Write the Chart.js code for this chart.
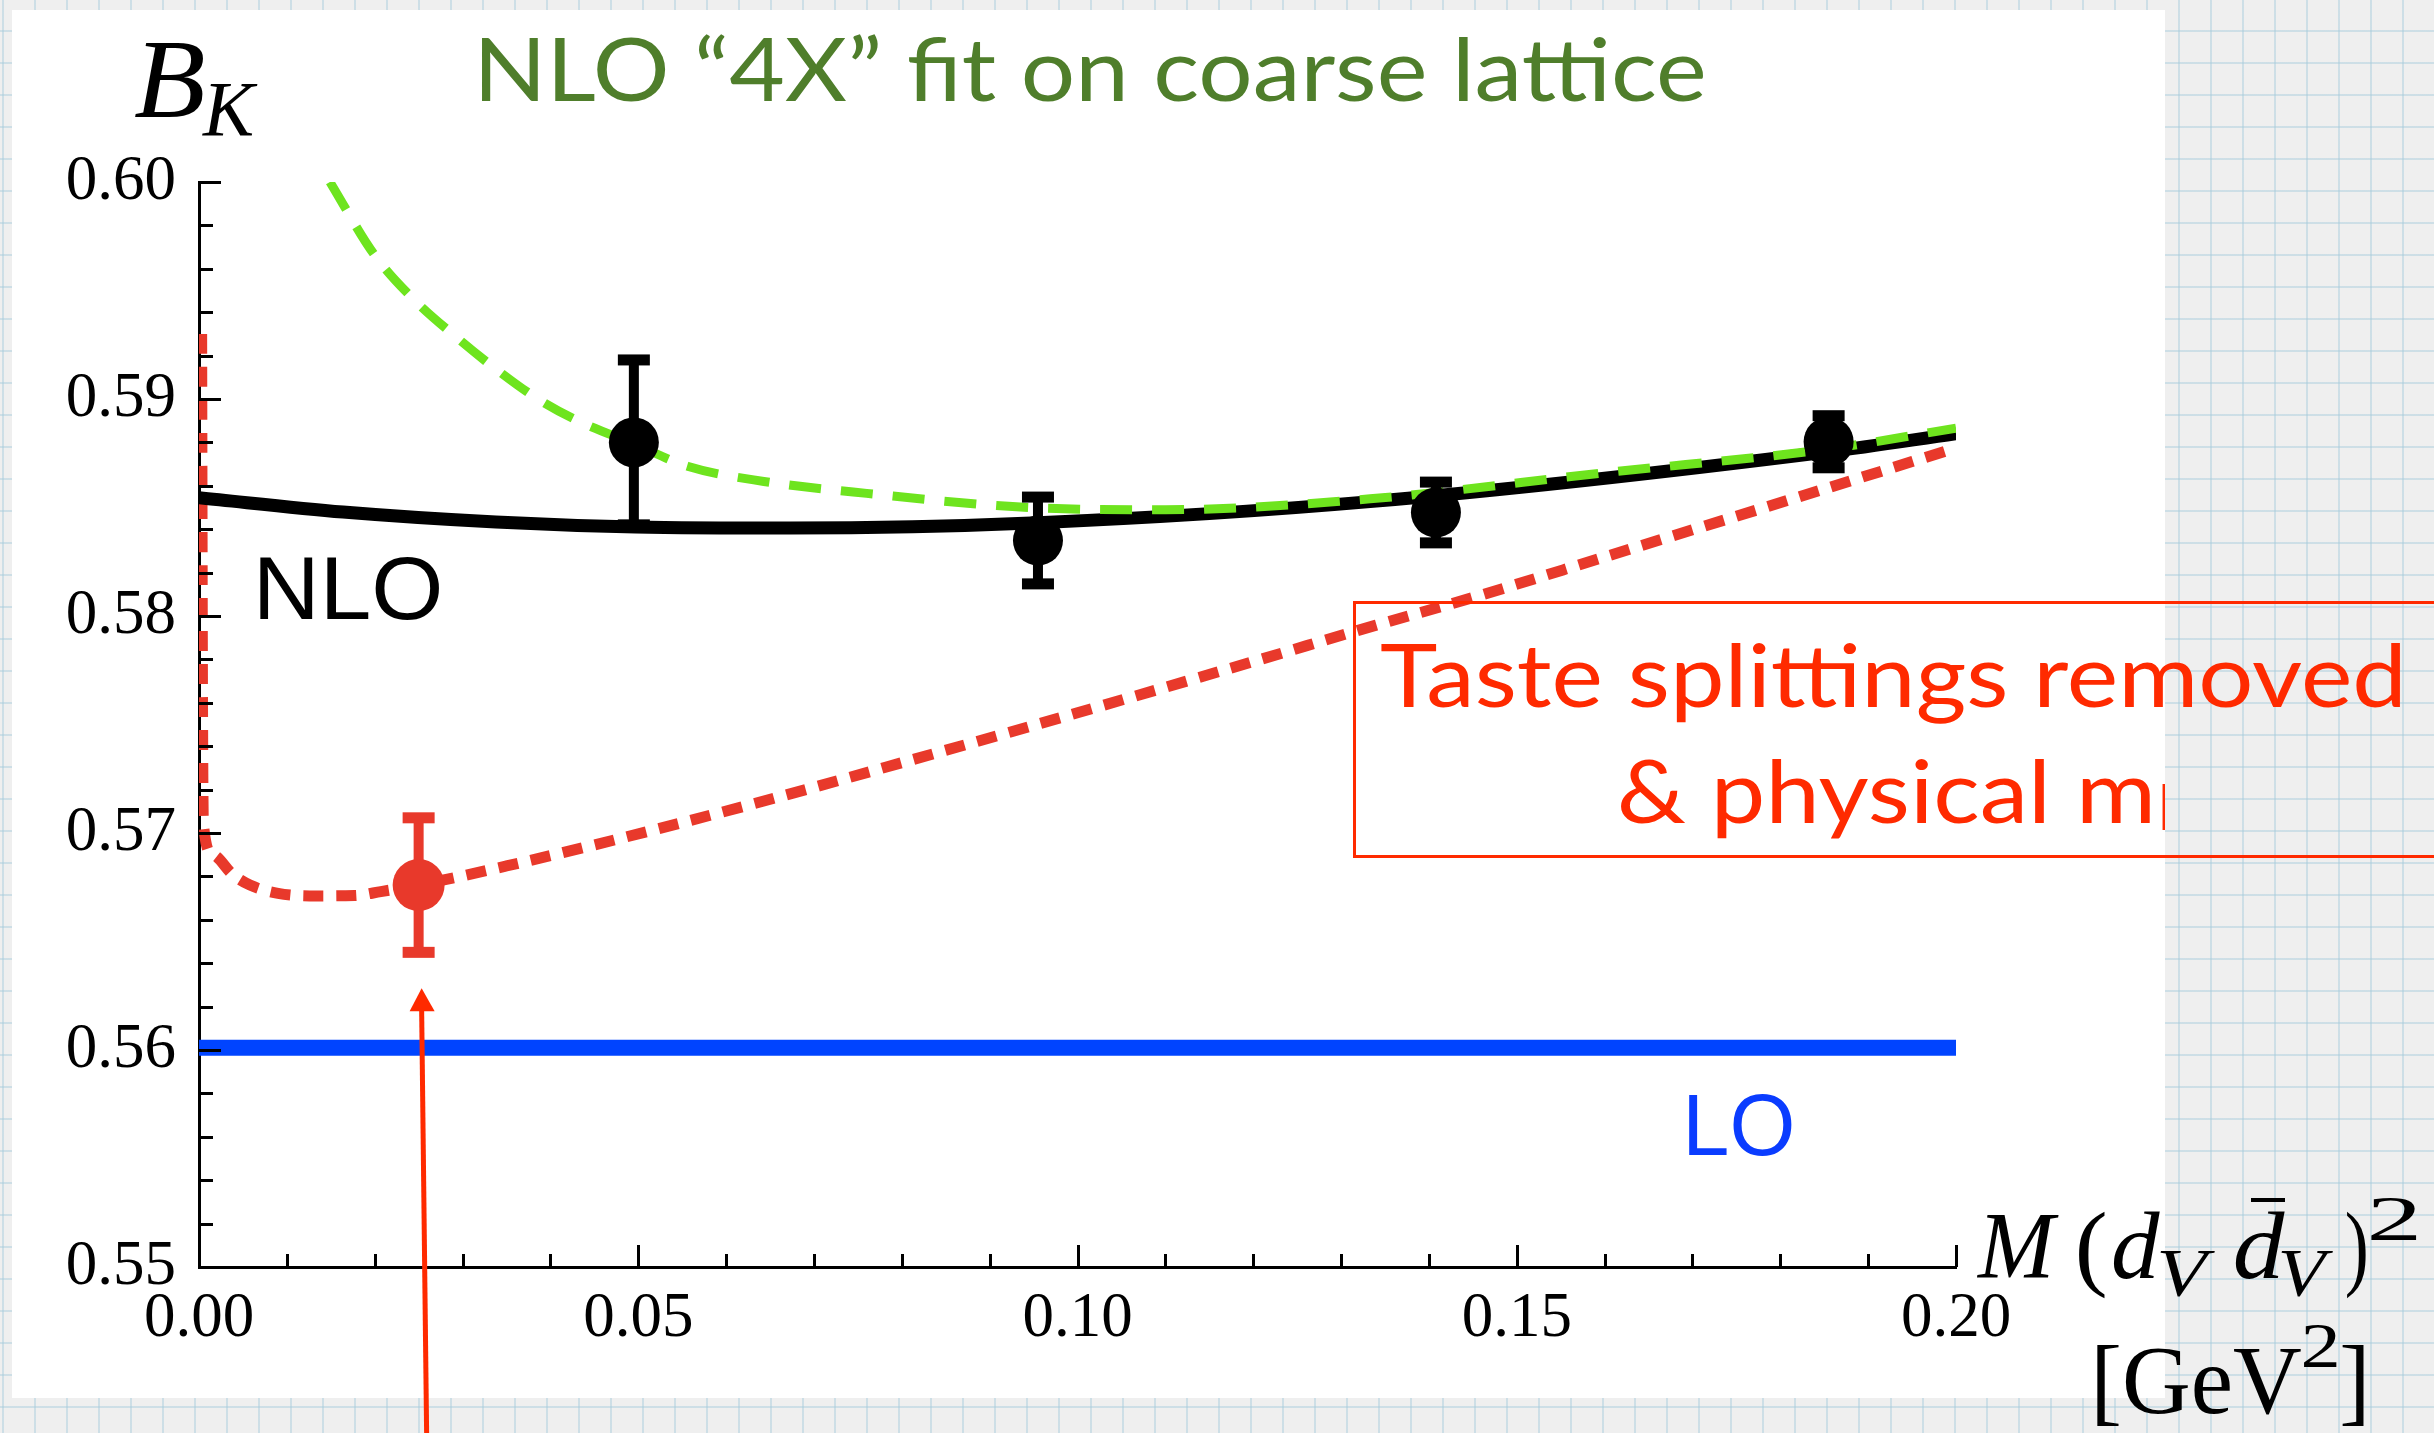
<!DOCTYPE html>
<html>
<head>
<meta charset="utf-8">
<title>B_K - NLO 4X fit on coarse lattice</title>
<script src="https://cdn.jsdelivr.net/npm/chart.js@4.4.1/dist/chart.umd.min.js"></script>
<style>
    html, body { margin: 0; padding: 0; }
    body {
        width: 2434px;
        height: 1433px;
        overflow: hidden;
        position: relative;
        background-color: #efefef;
        background-image:
            linear-gradient(to right, rgba(165, 203, 220, 0.45) 2px, transparent 2px),
            linear-gradient(to bottom, rgba(165, 203, 220, 0.45) 2px, transparent 2px);
        background-size: 32px 32px;
        background-position: 2px 30px;
    }
    #panel { position: absolute; left: 12px; top: 10px; width: 2153px; height: 1388px; background: #fff; }
    #chart { position: absolute; left: 0; top: 0; }
</style>
</head>
<body>
<div id="panel"></div>
<canvas id="chart" width="2434" height="1433"></canvas>
<script>
// Tick labels on the two axes (minor ticks every 0.01 / 0.002 stay unlabelled)
const xTickLabels = ['0.00', '0.05', '0.10', '0.15', '0.20'];
const yTickLabels = ['0.55', '0.56', '0.57', '0.58', '0.59', '0.60'];

// NLO fit, solid black
const nloX = [0, 0.0164, 0.0338, 0.0497, 0.0673, 0.0955, 0.1333, 0.1855, 0.2000];
const nloY = [0.58545, 0.58479, 0.58433, 0.58410, 0.58405, 0.58430, 0.58527, 0.58757, 0.58840];

// NLO "4X" fit, green dashed
const fitX = [0.0149, 0.0199, 0.0243, 0.0295, 0.0338, 0.0382, 0.0426, 0.0497, 0.0556, 0.0643, 0.0760, 0.0955, 0.1100, 0.1333, 0.1600, 0.1855, 0.2000];
const fitY = [0.60000, 0.59668, 0.59465, 0.59278, 0.59138, 0.59010, 0.58910, 0.58790, 0.58690, 0.58620, 0.58565, 0.58498, 0.58490, 0.58540, 0.58660, 0.58770, 0.58866];

// Taste splittings removed & physical m_l, red dotted
const tasteX = [0.0003, 0.0004, 0.0005, 0.0016, 0.0038, 0.0058, 0.0090, 0.0126, 0.0177, 0.0207, 0.0250, 0.0350, 0.0450, 0.0550, 0.0660, 0.0800, 0.1000, 0.1200, 0.1340, 0.1450, 0.1600, 0.1850, 0.2000];
const tasteY = [0.59300, 0.57600, 0.57040, 0.56900, 0.56810, 0.56760, 0.56722, 0.56710, 0.56712, 0.56730, 0.56760, 0.56848, 0.56945, 0.57048, 0.57166, 0.57324, 0.57554, 0.57790, 0.57958, 0.58085, 0.58272, 0.58585, 0.58775];

// LO value, blue
const loX = [0, 0.20];
const loY = [0.5601, 0.5601];

// Coarse lattice data points with errors (black)
const latticeX = [0.0495, 0.0955, 0.1408, 0.1855];
const latticeY = [0.58800, 0.58348, 0.58477, 0.58803];
const latticeErr = [0.0038, 0.0020, 0.0014, 0.0012];

// Extrapolated point (red)
const physX = [0.025];
const physY = [0.5676];
const physErr = [0.0031];

const RED_PLOT = '#e8392b';
const RED_TEXT = '#ff2a00';
const SERIF = '"Liberation Serif", "Times New Roman", serif';

function toPoints(xs, ys, errs) {
    return xs.map((x, i) => ({ x: x, y: ys[i], err: errs ? errs[i] : 0 }));
}

// Returns the label for a tick value, or '' when the tick is a minor one
function labelFor(value, labels) {
    const s = value.toFixed(2);
    return (labels.includes(s) && Math.abs(value - parseFloat(s)) < 1e-9) ? s : '';
}

// Draw text so that its ink spans exactly [x, x + width]
function drawFitted(ctx, text, x, y, width, font, color) {
    ctx.save();
    ctx.font = font;
    ctx.fillStyle = color;
    ctx.textAlign = 'left';
    ctx.textBaseline = 'alphabetic';
    const m = ctx.measureText(text);
    const ink = m.actualBoundingBoxLeft + m.actualBoundingBoxRight;
    const s = width / ink;
    ctx.translate(x + m.actualBoundingBoxLeft * s, y);
    ctx.scale(s, 1);
    ctx.fillText(text, 0, 0);
    ctx.restore();
}

// Inward pointing tick marks on both axes
const inwardTicks = {
    id: 'inwardTicks',
    afterDatasetsDraw(chart) {
        const { ctx, chartArea, scales } = chart;
        ctx.save();
        ctx.strokeStyle = '#000';
        ctx.lineWidth = 3;
        scales.y.ticks.forEach(t => {
            const py = Math.round(scales.y.getPixelForValue(t.value)) + 0.5;
            const len = t.label ? 22 : 14;
            ctx.beginPath();
            ctx.moveTo(chartArea.left, py);
            ctx.lineTo(chartArea.left + len, py);
            ctx.stroke();
        });
        scales.x.ticks.forEach(t => {
            const px = Math.round(scales.x.getPixelForValue(t.value)) + 0.5;
            const len = t.label ? 22 : 13;
            ctx.beginPath();
            ctx.moveTo(px, chartArea.bottom);
            ctx.lineTo(px, chartArea.bottom - len);
            ctx.stroke();
        });
        ctx.restore();
    }
};

// Error bars, drawn just before the markers of the same dataset
const errorBars = {
    id: 'errorBars',
    beforeDatasetDraw(chart, args) {
        const ds = chart.data.datasets[args.index];
        if (!ds.errorBars) return;
        const { ctx, scales } = chart;
        ctx.save();
        ctx.fillStyle = ds.pointBackgroundColor;
        ds.data.forEach(p => {
            const px = scales.x.getPixelForValue(p.x);
            const top = scales.y.getPixelForValue(p.y + p.err);
            const bot = scales.y.getPixelForValue(p.y - p.err);
            ctx.fillRect(px - 5, top, 10, bot - top);
            ctx.fillRect(px - 16, top - 5.5, 32, 11);
            ctx.fillRect(px - 16, bot - 5.5, 32, 11);
        });
        ctx.restore();
    }
};

// Titles, labels, the red note box and the arrow
const annotations = {
    id: 'annotations',
    afterDraw(chart) {
        const { ctx, scales } = chart;

        drawFitted(ctx, 'NLO \u201C4X\u201D fit on coarse lattice', 482, 101, 1222, '88px Lato', '#4f7e2b');

        // y axis title B_K
        drawFitted(ctx, 'B', 135, 117, 68, 'italic 112px ' + SERIF, '#000');
        drawFitted(ctx, 'K', 202, 135, 56, 'italic 78px ' + SERIF, '#000');

        drawFitted(ctx, 'NLO', 260, 619, 179, '89px "Liberation Sans", Arial, sans-serif', '#000');
        drawFitted(ctx, 'LO', 1689, 1155, 103, '88px "Liberation Sans", Arial, sans-serif', '#0a3cff');

        // x axis title M(d_V dbar_V)^2 [GeV^2]
        drawFitted(ctx, 'M', 1976, 1278, 83, 'italic 95px ' + SERIF, '#000');
        drawFitted(ctx, '(', 2079, 1278, 26, '95px ' + SERIF, '#000');
        drawFitted(ctx, 'd', 2113, 1278, 47, 'italic 95px ' + SERIF, '#000');
        drawFitted(ctx, 'V', 2160, 1295, 56, 'italic 68px ' + SERIF, '#000');
        drawFitted(ctx, 'd', 2235, 1278, 50, 'italic 95px ' + SERIF, '#000');
        ctx.fillStyle = '#000';
        ctx.fillRect(2251, 1198, 34, 4);
        drawFitted(ctx, 'V', 2281, 1295, 53, 'italic 68px ' + SERIF, '#000');
        drawFitted(ctx, ')', 2347, 1278, 19, '95px ' + SERIF, '#000');
        drawFitted(ctx, '2', 2370, 1240, 47, '64px ' + SERIF, '#000');
        drawFitted(ctx, '[GeV', 2097, 1413, 204, '98px ' + SERIF, '#000');
        drawFitted(ctx, '2', 2303, 1367, 34, '64px ' + SERIF, '#000');
        drawFitted(ctx, ']', 2342, 1413, 22, '98px ' + SERIF, '#000');

        // red note box (open to the right edge)
        ctx.save();
        ctx.strokeStyle = RED_TEXT;
        ctx.lineWidth = 3;
        ctx.strokeRect(1354.5, 602.5, 1200, 254);
        ctx.restore();
        drawFitted(ctx, 'Taste splittings removed', 1381, 707, 1020, '88px Lato', RED_TEXT);
        drawFitted(ctx, '& physical m', 1620, 823, 530, '88px Lato', RED_TEXT);
        ctx.save();
        ctx.beginPath();
        ctx.rect(0, 0, 2165, 1433);
        ctx.clip();
        ctx.font = '62px Lato';
        ctx.fillStyle = RED_TEXT;
        ctx.fillText('l', 2158, 830);
        ctx.restore();

        // arrow pointing at the extrapolated point
        const ax = scales.x.getPixelForValue(physX[0]) + 3;
        const tipY = scales.y.getPixelForValue(physY[0] - physErr[0]) + 36;
        ctx.save();
        ctx.strokeStyle = RED_TEXT;
        ctx.fillStyle = RED_TEXT;
        ctx.lineWidth = 5;
        ctx.beginPath();
        ctx.moveTo(ax + 5, 1433);
        ctx.lineTo(ax, tipY + 20);
        ctx.stroke();
        ctx.beginPath();
        ctx.moveTo(ax, tipY);
        ctx.lineTo(ax - 12, tipY + 23);
        ctx.lineTo(ax + 13, tipY + 23);
        ctx.closePath();
        ctx.fill();
        ctx.restore();
    }
};

const ctx = document.getElementById('chart').getContext('2d');
new Chart(ctx, {
    type: 'line',
    data: {
        datasets: [
            {
                label: 'LO',
                data: toPoints(loX, loY),
                borderColor: '#0044ff',
                borderWidth: 16,
                pointRadius: 0,
                order: 6
            },
            {
                label: 'Taste splittings removed & physical ml',
                data: toPoints(tasteX, tasteY),
                borderColor: RED_PLOT,
                borderWidth: 11,
                borderDash: [20, 13],
                borderCapStyle: 'butt',
                cubicInterpolationMode: 'monotone',
                pointRadius: 0,
                order: 5
            },
            {
                label: 'NLO',
                data: toPoints(nloX, nloY),
                borderColor: '#000',
                borderWidth: 13,
                cubicInterpolationMode: 'monotone',
                pointRadius: 0,
                order: 4
            },
            {
                label: 'NLO 4X fit',
                data: toPoints(fitX, fitY),
                borderColor: '#6ee41e',
                borderWidth: 9,
                borderDash: [32, 20],
                cubicInterpolationMode: 'monotone',
                pointRadius: 0,
                order: 3
            },
            {
                label: 'physical point',
                data: toPoints(physX, physY, physErr),
                showLine: false,
                errorBars: true,
                pointRadius: 26,
                pointBorderWidth: 0,
                pointBackgroundColor: RED_PLOT,
                order: 1
            },
            {
                label: 'coarse lattice data',
                data: toPoints(latticeX, latticeY, latticeErr),
                showLine: false,
                errorBars: true,
                pointRadius: 25,
                pointBorderWidth: 0,
                pointBackgroundColor: '#000',
                order: 0
            }
        ]
    },
    options: {
        responsive: false,
        animation: false,
        devicePixelRatio: 1,
        layout: { padding: { left: 0, top: 182, right: 478, bottom: 66 } },
        plugins: {
            legend: { display: false },
            tooltip: { enabled: false }
        },
        scales: {
            x: {
                type: 'linear',
                position: 'bottom',
                min: 0,
                max: 0.2,
                afterFit: scale => { scale.height = 100; },
                grid: { display: false, drawTicks: false },
                border: { display: true, color: '#000', width: 3 },
                ticks: {
                    stepSize: 0.01,
                    autoSkip: false,
                    maxRotation: 0,
                    padding: 15,
                    color: '#000',
                    font: { family: SERIF, size: 63 },
                    callback: value => labelFor(value, xTickLabels)
                }
            },
            y: {
                type: 'linear',
                position: 'left',
                min: 0.55,
                max: 0.60,
                afterFit: scale => { scale.width = 199; },
                grid: { display: false, drawTicks: false },
                border: { display: true, color: '#000', width: 3 },
                ticks: {
                    stepSize: 0.002,
                    autoSkip: false,
                    padding: 23,
                    color: '#000',
                    font: { family: SERIF, size: 63 },
                    callback: value => labelFor(value, yTickLabels)
                }
            }
        }
    },
    plugins: [errorBars, inwardTicks, annotations]
});
</script>
</body>
</html>
